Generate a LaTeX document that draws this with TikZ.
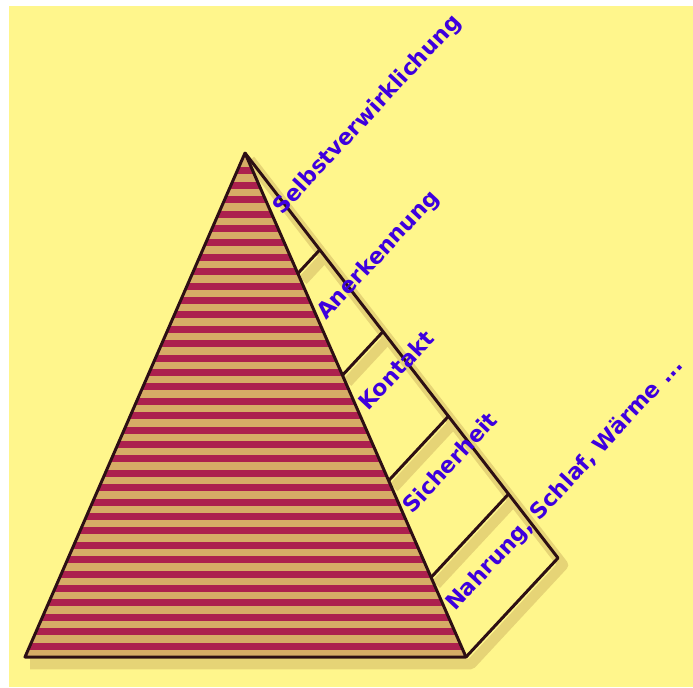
\documentclass[tikz,border=0pt]{standalone}
\usepackage{fontspec}
\setmainfont{DejaVu Sans}
\usetikzlibrary{calc}
\definecolor{paper}{RGB}{255,246,140}
\definecolor{shade}{RGB}{230,212,118}
\definecolor{stripered}{RGB}{172,32,78}
\definecolor{stripetan}{RGB}{214,172,102}
\definecolor{edge}{RGB}{45,15,20}
\definecolor{labelblue}{RGB}{62,0,222}
\begin{document}
\begin{tikzpicture}[x=0.02cm,y=-0.02cm,
  lvl/.style={font=\bfseries\fontsize{12.6}{14}\selectfont,text=labelblue,rotate=47,inner sep=0pt,anchor=base west},
  outline/.style={draw=edge,line width=1.7pt,line join=round},
  shadowline/.style={draw=shade,line width=6pt,line join=round}]
% backdrop
\fill[white] (0,0) rectangle (693,687);
\fill[paper] (9,6) rectangle (693,687);
\useasboundingbox (0,0) rectangle (693,687);
\coordinate (top) at (245,153);
\coordinate (left) at (25,657);
\coordinate (right) at (466,657);
\coordinate (outer) at (558,558);
% shadows
\draw[shadowline] ([shift={(5,7)}]left) -- ([shift={(5,7)}]right) -- ([shift={(5,7)}]outer) -- ([shift={(5,7)}]top);
\foreach \t in {0.239,0.441,0.650,0.842}
  \draw[shadowline] ([shift={(5,7)}]$(top)!\t!(right)$) -- ([shift={(5,7)}]$(top)!\t!(outer)$);
% striped pyramid
\begin{scope}
\clip (top) -- (left) -- (right) -- cycle;
\fill[stripetan] (0,140) rectangle (693,660);
\foreach \k in {0,...,33}
  \fill[stripered] (0,646-\k*14.4-3.5) rectangle (693,646-\k*14.4+3.5);
\end{scope}
\draw[outline] (top) -- (left) -- (right) -- cycle;
% side band
\draw[outline] (top) -- (outer) -- (right);
\foreach \t in {0.239,0.441,0.650,0.842}
  \draw[outline] ($(top)!\t!(right)$) -- ($(top)!\t!(outer)$);
% labels
\node[lvl] (self) at (282,216) {Selbstverwirklichung};
\node[lvl] (esteem) at (326,321) {Anerkennung};
\node[lvl] (social) at (368,412) {Kontakt};
\node[lvl] (safety) at (412,515) {Sicherheit};
\node[lvl] (basic) at (455,612) {Nahrung, Schlaf, Wärme ...};
\end{tikzpicture}
\end{document}
